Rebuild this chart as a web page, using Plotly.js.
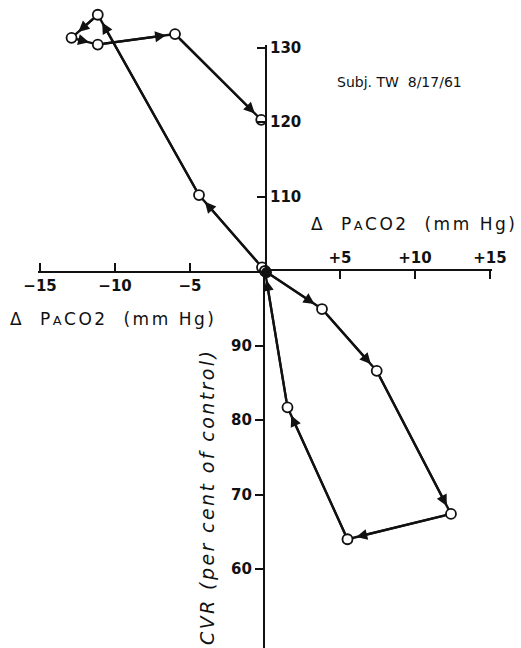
<!DOCTYPE html>
<html>
<head>
<meta charset="utf-8">
<script src="https://cdn.plot.ly/plotly-3.0.1.min.js"></script>
<style>
  html, body { margin: 0; padding: 0; background: #ffffff; }
  #chart { width: 521px; height: 648px; }
</style>
</head>
<body>
<div id="chart"></div>
<script>
// upper loop: control -> hypocapnia
const upperX = [-0.2, -4.4, -11.15, -12.9, -11.15, -6.0, -0.25];
const upperY = [100.5, 110.2, 134.4, 131.3, 130.4, 131.8, 120.3];

// lower loop: control -> hypercapnia and back
const lowerX = [0, 3.8, 7.45, 12.4, 5.5, 1.5, 0];
const lowerY = [100, 94.9, 86.6, 67.4, 64.0, 81.7, 100];

const controlX = [0.1];
const controlY = [99.8];

const negTickVals = [-15, -10, -5];
const negTickText = ["\u221215", "\u221210", "\u22125"];
const posTickVals = [5, 10, 15];
const posTickText = ["+5", "+10", "+15"];
const lowTickVals = [60, 70, 80, 90];
const highTickVals = [110, 120, 130];

const X_RANGE = [-17.67, 17.07];
const Y_RANGE = [49.4, 136.38];
const FONT = "DejaVu Sans, Verdana, sans-serif";
// inside ticks sitting exactly on a range end get dropped, so pad the ends a hair
const END_PAD_X = 0.15;
const END_PAD_Y = 0.3;

const fracX = (v) => (v - X_RANGE[0]) / (X_RANGE[1] - X_RANGE[0]);
const fracY = (v) => (v - Y_RANGE[0]) / (Y_RANGE[1] - Y_RANGE[0]);

const loopTrace = (xs, ys) => ({
  x: xs,
  y: ys,
  mode: "lines+markers",
  type: "scatter",
  line: { color: "#111", width: 2.4 },
  marker: { symbol: "circle", size: 10, color: "#fff", line: { color: "#111", width: 1.8 } },
  hoverinfo: "skip",
  showlegend: false
});

const arrowsFor = (xs, ys) => {
  const list = [];
  for (let i = 1; i < xs.length; i += 1) {
    list.push({
      x: xs[i],
      y: ys[i],
      ax: xs[i - 1],
      ay: ys[i - 1],
      xref: "x",
      yref: "y",
      axref: "x",
      ayref: "y",
      showarrow: true,
      arrowhead: 2,
      arrowsize: 1,
      arrowwidth: 2.2,
      arrowcolor: "#111",
      standoff: 9,
      startstandoff: 5,
      text: ""
    });
  }
  return list;
};

const axisBase = {
  showgrid: false,
  zeroline: false,
  showline: true,
  linecolor: "#111",
  linewidth: 2,
  tickcolor: "#111",
  tickwidth: 2,
  ticklen: 8,
  tickmode: "array",
  tickfont: { family: FONT, size: 15, color: "#111", weight: "bold" },
  fixedrange: true
};

const data = [
  { x: [], y: [], xaxis: "x2", yaxis: "y3", hoverinfo: "skip", showlegend: false },
  { x: [], y: [], xaxis: "x3", yaxis: "y2", hoverinfo: "skip", showlegend: false },
  loopTrace(upperX, upperY),
  loopTrace(lowerX, lowerY),
  {
    x: controlX,
    y: controlY,
    mode: "markers",
    type: "scatter",
    marker: { symbol: "circle", size: 11, color: "#111" },
    hoverinfo: "skip",
    showlegend: false
  }
];

const origin = { x: fracX(0), y: fracY(100) };
const xLeft = negTickVals[0] - END_PAD_X;
const xRight = posTickVals[posTickVals.length - 1] + END_PAD_X;
const yTop = highTickVals[highTickVals.length - 1] + END_PAD_Y;

const spaced = (txt, px) => `<span style="letter-spacing:${px}px">${txt}</span>`;
const paTitle = (px) => spaced(
  `\u0394  P<span style="font-size:13px">A</span>CO2  (mm Hg)`, px
);

const layout = {
  width: 521,
  height: 648,
  margin: { t: 0, r: 0, b: 0, l: 0 },
  paper_bgcolor: "#ffffff",
  plot_bgcolor: "rgba(0,0,0,0)",
  showlegend: false,
  xaxis: { range: X_RANGE, domain: [0, 1], visible: false, fixedrange: true },
  yaxis: { range: Y_RANGE, domain: [0, 1], visible: false, fixedrange: true },
  // negative x half: sits on the bottom edge of the upper-y box, ticks up, labels below
  xaxis2: {
    ...axisBase,
    range: [xLeft, 0],
    domain: [fracX(xLeft), origin.x],
    anchor: "y3",
    side: "bottom",
    ticks: "inside",
    tickvals: negTickVals,
    ticktext: negTickText
  },
  // positive x half: sits on the top edge of the lower-y box, ticks down, labels above
  xaxis3: {
    ...axisBase,
    range: [0, xRight],
    domain: [origin.x, fracX(xRight)],
    anchor: "y2",
    side: "top",
    ticks: "inside",
    tickvals: posTickVals,
    ticktext: posTickText
  },
  // lower y half: left edge of the positive-x box, ticks and labels to the left
  yaxis2: {
    ...axisBase,
    range: [Y_RANGE[0], 100],
    domain: [0, origin.y],
    anchor: "x3",
    side: "left",
    ticks: "outside",
    tickvals: lowTickVals
  },
  // upper y half: right edge of the negative-x box, ticks left, labels right
  yaxis3: {
    ...axisBase,
    range: [100, yTop],
    domain: [origin.y, fracY(yTop)],
    anchor: "x2",
    side: "right",
    ticks: "inside",
    tickvals: highTickVals
  },
  annotations: [
    ...arrowsFor(upperX, upperY),
    ...arrowsFor(lowerX, lowerY),
    {
      text: paTitle(2.5),
      xref: "paper", yref: "paper",
      x: 8 / 521, y: 1 - 319 / 648,
      xanchor: "left", yanchor: "middle",
      showarrow: false,
      font: { family: FONT, size: 17, color: "#111" }
    },
    {
      text: paTitle(2.5),
      xref: "paper", yref: "paper",
      x: 309 / 521, y: 1 - 224 / 648,
      xanchor: "left", yanchor: "middle",
      showarrow: false,
      font: { family: FONT, size: 17, color: "#111" }
    },
    {
      text: "Subj. TW  8/17/61",
      xref: "paper", yref: "paper",
      x: 335 / 521, y: 1 - 82 / 648,
      xanchor: "left", yanchor: "middle",
      showarrow: false,
      font: { family: FONT, size: 14, color: "#111" }
    },
    {
      text: spaced("<i>CVR (per cent of control)</i>", 2.4),
      xref: "paper", yref: "paper",
      x: 207 / 521, y: 1 - 497 / 648,
      xanchor: "center", yanchor: "middle",
      textangle: -90,
      showarrow: false,
      font: { family: FONT, size: 19, color: "#111" }
    }
  ]
};

Plotly.newPlot("chart", data, layout, { displayModeBar: false, staticPlot: true });
</script>
</body>
</html>
